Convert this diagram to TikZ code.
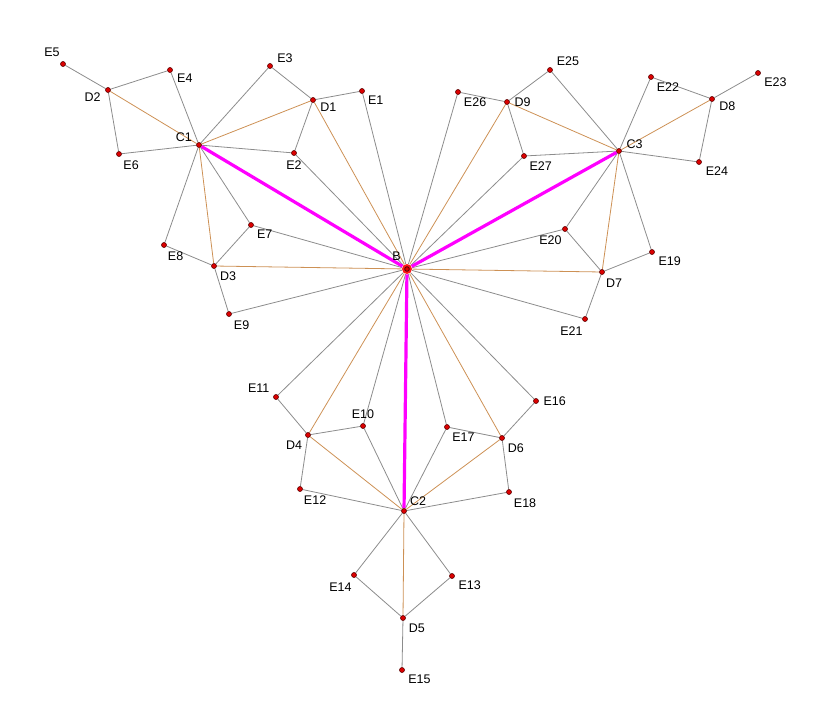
\documentclass[tikz,border=0pt]{standalone}
\usepackage{fontspec}
\setmainfont{Liberation Sans}
\definecolor{tanline}{RGB}{205,145,85}
\definecolor{grayline}{RGB}{140,140,140}
\definecolor{hubline}{RGB}{255,0,255}
\definecolor{dotfill}{RGB}{220,0,0}
\pgfdeclarelayer{edges}
\pgfsetlayers{edges,main}

\begin{document}
\begin{tikzpicture}[
  x=1pt, y=-1pt,
  every node/.style = {
    circle,
    fill=dotfill,
    draw=red!35!black,
    line width=0.6pt,
    inner sep=0pt,
    minimum size=5pt
  },
  every label/.style = {
    rectangle,
    fill=none,
    draw=none,
    minimum size=0pt,
    inner sep=1pt,
    node font=\fontsize{12.5}{14}\selectfont
  },
  label distance=3.5pt,
  hub/.style={minimum size=10pt, draw=none, fill=red!90,
    path picture={\draw[red!30!black, line width=0.8pt, fill=dotfill]
      (path picture bounding box.center) circle (2.3pt);}},
  uedge/.style={draw=grayline, line width=0.8pt},
  dedge/.style={draw=tanline, line width=0.8pt},
  cedge/.style={draw=hubline, line width=3.2pt}
]
    \useasboundingbox (0,0) rectangle (837,719);

    \node[hub, label={125:B}] (B) at (407,269) {};
    \foreach \n/\x/\y/\a in {
      C1/199/145/160, C2/404/511/40, C3/619/151/10,
      D1/313/100/-15, D2/108/90/195, D3/214/266/-40,
      D4/308/435/223, D5/403/618/-43, D6/502/438/-45,
      D7/602/272/-63, D8/712/99/-15, D9/507/102/0,
      E1/362/91/-40, E2/294/153/-90, E3/270/66/15,
      E4/170/70/-20, E5/63/64/110, E6/119/154/-60,
      E7/251/225/-40, E8/164/245/-65, E9/229/314/-55,
      E10/363/426/90, E11/276/397/148, E12/300/489/-65,
      E13/452/576/-32, E14/354/575/-100, E15/402/670/-36,
      E16/536/401/0, E17/447/427/-50, E18/509/492/-55,
      E19/652/252/-33, E20/565/229/-110, E21/585/319/-100,
      E22/651/77/-45, E23/758/73/-37, E24/699/162/-30,
      E25/550/70/30, E26/458/92/-42, E27/524/156/-48
    }{
        \node[label={\a:\n}] (\n) at (\x,\y) {};
    }

    \begin{pgfonlayer}{edges}
    % each D with its three E
    \foreach \i [
      evaluate=\i as \ea using {int(3*\i-2)},
      evaluate=\i as \eb using {int(3*\i-1)},
      evaluate=\i as \ec using {int(3*\i)}
    ] in {1,...,9}{
        \path[uedge] (D\i) edge (E\ea) (D\i) edge (E\eb) (D\i) edge (E\ec);
    }
    \foreach \e in {E1,E2,E7,E9,E10,E11,E16,E17,E20,E21,E26,E27}{
        \path[uedge] (B) edge (\e);
    }
    \foreach \e in {E2,E3,E4,E6,E7,E8}{
        \path[uedge] (C1) edge (\e);
    }
    \foreach \e in {E10,E12,E13,E14,E17,E18}{
        \path[uedge] (C2) edge (\e);
    }
    \foreach \e in {E19,E20,E22,E24,E25,E27}{
        \path[uedge] (C3) edge (\e);
    }

    \foreach \d in {D1,D3,D4,D6,D7,D9}{
        \path[dedge] (B) edge (\d);
    }
    \foreach \c/\d in {C1/D1,C1/D2,C1/D3,C2/D4,C2/D5,C2/D6,C3/D7,C3/D8,C3/D9}{
        \path[dedge] (\c) edge (\d);
    }

    \path[cedge] (B) edge (C1) (B) edge (C2) (B) edge (C3);
    \end{pgfonlayer}
\end{tikzpicture}
\end{document}
